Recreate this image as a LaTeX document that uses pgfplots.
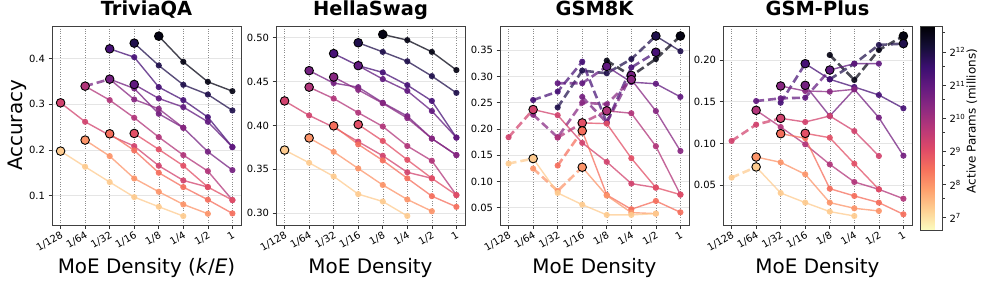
\documentclass[border=0pt]{standalone}
\usepackage{fontspec}
\setmainfont{DejaVu Sans}
\usepackage{pgfplots}
\pgfplotsset{compat=1.18}

\definecolor{cA}{RGB}{5,4,20}
\definecolor{cB}{RGB}{32,16,76}
\definecolor{cC}{RGB}{71,17,118}
\definecolor{cD}{RGB}{97,25,127}
\definecolor{cE}{RGB}{116,32,128}
\definecolor{cF}{RGB}{135,39,129}
\definecolor{cG}{RGB}{177,53,122}
\definecolor{cH}{RGB}{209,67,110}
\definecolor{cI}{RGB}{226,79,102}
\definecolor{cJ}{RGB}{245,110,92}
\definecolor{cK}{RGB}{252,148,105}
\definecolor{cL}{RGB}{254,203,143}

\pgfplotsset{colormap={magmar}{rgb255=(252,253,191) rgb255=(254,207,146) rgb255=(254,159,109) rgb255=(246,112,92) rgb255=(222,73,104) rgb255=(183,55,121) rgb255=(140,41,129) rgb255=(100,26,128) rgb255=(59,15,112) rgb255=(20,14,54) rgb255=(0,0,4)}}

\newcommand{\SL}[2]{\addplot[draw=#1,draw opacity=0.75,line width=1.4bp,mark=*,mark size=3.1bp,mark options={solid,draw opacity=0,fill=#1,fill opacity=0.92}] coordinates {#2};}
\newcommand{\DL}[2]{\addplot[draw=#1,draw opacity=0.72,line width=2.6bp,dash pattern=on 8bp off 4bp,mark=*,mark size=3.1bp,mark options={solid,draw opacity=0,fill=#1,fill opacity=0.92}] coordinates {#2};}
\newcommand{\BM}[2]{\addplot[only marks,mark=*,mark size=4.3bp,mark options={solid,fill=#1,draw=black,line width=0.9bp}] coordinates {#2};}

\pgfplotsset{
  panel/.style={
    scale only axis, width=189bp, height=199bp,
    anchor=north west,
    xmin=-0.35, xmax=7.35,
    xtick={0,1,2,3,4,5,6,7},
    xticklabels={1/128,1/64,1/32,1/16,1/8,1/4,1/2,1},
    tick pos=left,
    tick align=outside,
    major tick length=3.5bp,
    tick style={black!80, line width=0.7bp},
    axis line style={black!75, line width=0.8bp},
    xmajorgrids=true, ymajorgrids=true,
    x grid style={black!45, dotted, line width=0.5bp},
    y grid style={black!10, line width=0.8bp},
    tick label style={font=\fontsize{10}{12}\selectfont},
    x tick label style={rotate=30, anchor=north east, inner sep=1.5bp},
    /pgf/number format/assume math mode=true,
    title style={at={(axis description cs:0.5,1)}, anchor=base, yshift=4.5bp, font=\fontsize{19.5}{22}\selectfont\bfseries},
    xlabel style={at={(axis description cs:0.5,-0.246)}, anchor=base, font=\fontsize{20}{24}\selectfont},
    xlabel={MoE Density},
  }
}

\begin{document}
\begin{tikzpicture}
\path[use as bounding box] (0bp,0bp) rectangle (996bp,-285bp);

% ---------------- TriviaQA
\begin{axis}[panel, at={(52bp,-26bp)},
  title={TriviaQA},
  xlabel={MoE Density (\textit{k}/\textit{E})},
  ylabel={Accuracy},
  ylabel style={at={(axis description cs:-0.1556,0.5)}, anchor=base, font=\fontsize{20}{24}\selectfont},
  ymin=0.036, ymax=0.471,
  ytick={0.1,0.2,0.3,0.4},
  y tick label style={/pgf/number format/.cd, fixed, fixed zerofill, precision=1},
]
\SL{cA}{(4,0.4488)(5,0.3927)(6,0.349)(7,0.3286)}
\SL{cB}{(3,0.4335)(4,0.3847)(5,0.3425)(6,0.3213)(7,0.2864)}
\SL{cC}{(2,0.4211)(3,0.4029)(4,0.3374)(5,0.309)(6,0.2718)(7,0.2063)}
\SL{cD}{(3,0.3432)(4,0.3126)(5,0.2937)(6,0.2616)(7,0.2063)}
\DL{cE}{(1,0.3395)(2,0.3548)}
\SL{cE}{(2,0.3548)(3,0.3345)(4,0.2791)(5,0.2485)(6,0.1961)(7,0.156)}
\SL{cF}{(2,0.3548)(3,0.3104)(4,0.290)(5,0.2485)}
\SL{cG}{(1,0.3395)(2,0.309)(3,0.2704)(4,0.2281)(5,0.1888)(6,0.1538)(7,0.0905)}
\SL{cH}{(0,0.3031)(1,0.2616)(2,0.232)(3,0.2084)(4,0.1655)(5,0.1334)(6,0.1189)}
\SL{cI}{(3,0.2361)(4,0.2012)(5,0.1655)(6,0.1189)(7,0.0905)}
\SL{cJ}{(2,0.2354)(3,0.199)(4,0.1502)(5,0.1189)(6,0.0912)(7,0.0613)}
\SL{cK}{(1,0.2216)(2,0.1866)(3,0.1378)(4,0.1087)(5,0.081)(6,0.0606)}
\SL{cL}{(0,0.1975)(1,0.1633)(2,0.1298)(3,0.097)(4,0.0759)(5,0.0555)}
\BM{cA}{(4,0.4488)}
\BM{cB}{(3,0.4335)}
\BM{cC}{(2,0.4211)}
\BM{cD}{(3,0.3432)}
\BM{cE}{(2,0.3548)}
\BM{cG}{(1,0.3395)}
\BM{cH}{(0,0.3031)}
\BM{cI}{(3,0.2361)}
\BM{cJ}{(2,0.2354)}
\BM{cK}{(1,0.2216)}
\BM{cL}{(0,0.1975)}
\end{axis}

% ---------------- HellaSwag
\begin{axis}[panel, at={(276bp,-26bp)},
  title={HellaSwag},
  ymin=0.2866, ymax=0.5134,
  ytick={0.30,0.35,0.40,0.45,0.50},
  y tick label style={/pgf/number format/.cd, fixed, fixed zerofill, precision=2},
]
\SL{cA}{(4,0.5038)(5,0.4973)(6,0.4839)(7,0.4632)}
\SL{cB}{(3,0.4943)(4,0.4839)(5,0.4732)(6,0.4563)(7,0.4372)}
\SL{cC}{(2,0.482)(3,0.4682)(4,0.4605)(5,0.446)(6,0.428)(7,0.3862)}
\SL{cD}{(3,0.4682)(4,0.4529)(5,0.4395)(6,0.4165)(7,0.3862)}
\SL{cE}{(1,0.4625)(2,0.4483)(3,0.4437)(4,0.426)(5,0.4107)(6,0.3851)(7,0.3663)}
\SL{cF}{(2,0.4552)(3,0.4406)(4,0.4253)(5,0.4084)(6,0.3851)(7,0.3663)}
\SL{cG}{(1,0.4437)(2,0.4307)(3,0.4146)(4,0.3989)(5,0.3766)(6,0.3598)(7,0.3207)}
\SL{cH}{(0,0.428)(1,0.4115)(2,0.398)(3,0.3816)(4,0.3655)(5,0.3467)(6,0.3398)}
\SL{cI}{(3,0.4011)(4,0.3824)(5,0.3609)(6,0.3398)(7,0.3207)}
\SL{cJ}{(2,0.3996)(3,0.3785)(4,0.3602)(5,0.3398)(6,0.3195)(7,0.3073)}
\SL{cK}{(1,0.3858)(2,0.370)(3,0.351)(4,0.3322)(5,0.3157)(6,0.3023)}
\SL{cL}{(0,0.372)(1,0.3575)(2,0.342)(3,0.3218)(4,0.3134)(5,0.2969)}
\BM{cA}{(4,0.5038)}
\BM{cB}{(3,0.4943)}
\BM{cC}{(2,0.482)}
\BM{cD}{(3,0.4682)}
\BM{cE}{(1,0.4625)}
\BM{cF}{(2,0.4552)}
\BM{cG}{(1,0.4437)}
\BM{cH}{(0,0.428)}
\BM{cI}{(3,0.4011)}
\BM{cJ}{(2,0.3996)}
\BM{cK}{(1,0.3858)}
\BM{cL}{(0,0.372)}
\end{axis}

% ---------------- GSM8K
\begin{axis}[panel, at={(500bp,-26bp)},
  title={GSM8K},
  ymin=0.017, ymax=0.396,
  ytick={0.05,0.1,0.15,0.2,0.25,0.3,0.35},
  y tick label style={/pgf/number format/.cd, fixed, fixed zerofill, precision=2},
]
\DL{cA}{(4,0.330)(5,0.301)(6,0.333)(7,0.377)}
\DL{cB}{(2,0.241)(3,0.311)(4,0.306)(5,0.333)(6,0.377)}
\SL{cB}{(6,0.377)(7,0.348)}
\DL{cC}{(1,0.255)(2,0.271)(3,0.328)(4,0.212)(5,0.317)(6,0.346)}
\DL{cD}{(2,0.287)(3,0.287)(4,0.319)}
\SL{cD}{(4,0.319)(5,0.289)(6,0.286)(7,0.261)}
\DL{cE}{(3,0.261)(4,0.212)(5,0.302)}
\DL{cF}{(1,0.227)(2,0.184)(3,0.250)(4,0.247)(5,0.294)}
\SL{cF}{(5,0.294)(6,0.234)(7,0.158)}
\DL{cG}{(2,0.1835)(3,0.2115)(4,0.2344)}
\SL{cG}{(4,0.2344)(5,0.2299)(6,0.167)(7,0.0749)}
\DL{cH}{(0,0.1842)(1,0.2369)}
\SL{cH}{(1,0.2369)(2,0.2261)(3,0.1734)(4,0.1372)(5,0.0959)(6,0.0882)}
\SL{cI}{(3,0.2115)(4,0.2100)(5,0.1442)(6,0.0882)(7,0.0749)}
\DL{cJ}{(2,0.1302)(3,0.1963)}
\SL{cJ}{(3,0.1963)(4,0.0743)(5,0.047)(6,0.0628)(7,0.0412)}
\DL{cK}{(1,0.1245)(2,0.0819)(3,0.127)}
\SL{cK}{(3,0.127)(4,0.073)(5,0.0406)(6,0.0387)}
\DL{cL}{(0,0.134)(1,0.1435)}
\SL{cL}{(1,0.1435)(2,0.078)(3,0.0558)(4,0.0362)(5,0.0362)(6,0.0387)}
\BM{cA}{(7,0.377)}
\BM{cB}{(6,0.377)}
\BM{cC}{(6,0.346)}
\BM{cD}{(4,0.319)}
\BM{cE}{(5,0.302)}
\BM{cF}{(5,0.294)}
\BM{cG}{(4,0.2344)}
\BM{cH}{(1,0.2369)}
\BM{cI}{(3,0.2115)}
\BM{cJ}{(3,0.1963)}
\BM{cK}{(3,0.127)}
\BM{cL}{(1,0.1435)}
\end{axis}

% ---------------- GSM-Plus
\begin{axis}[panel, at={(723bp,-26bp)},
  title={GSM-Plus},
  ymin=0.0025, ymax=0.2407,
  ytick={0.05,0.1,0.15,0.2},
  y tick label style={/pgf/number format/.cd, fixed, fixed zerofill, precision=2},
  colormap name=magmar,
  colorbar,
  point meta min=6.63, point meta max=12.79,
  colorbar style={
    scale only axis, width=22bp, height=204bp,
    at={([xshift=21bp,yshift=-15bp]parent axis.north east)}, anchor=north west,
    ytick={7,8,9,10,11,12},
    yticklabels={2\textsuperscript{7},2\textsuperscript{8},2\textsuperscript{9},2\textsuperscript{10},2\textsuperscript{11},2\textsuperscript{12}},
    minor ytick={7.585,8.585,9.585,10.585,11.585,12.585},
    ytick pos=right, yticklabel pos=right,
    tick align=outside,
    major tick length=3.5bp, minor tick length=2bp,
    tick style={black!80, line width=0.7bp},
    axis line style={black!75, line width=0.8bp},
    yticklabel style={font=\fontsize{10}{12}\selectfont},
    ylabel={Active Params (millions)},
    ylabel style={at={(axis description cs:2.5,0.534)}, anchor=base, font=\fontsize{12}{14}\selectfont},
  },
]
\DL{cA}{(4,0.206)(5,0.1761)(6,0.212)(7,0.2287)}
\DL{cB}{(4,0.1769)(5,0.1956)(6,0.218)(7,0.2196)}
\DL{cC}{(2,0.1489)(3,0.1956)}
\SL{cC}{(3,0.1956)(4,0.1769)(5,0.1677)(6,0.1581)(7,0.1422)}
\DL{cD}{(1,0.1509)(2,0.1541)(3,0.1549)(4,0.188)}
\SL{cD}{(4,0.188)(5,0.1956)(6,0.1956)}
\SL{cE}{(3,0.1697)(4,0.133)(5,0.1649)(6,0.131)(7,0.0855)}
\SL{cF}{(2,0.1689)(3,0.1629)(4,0.1621)(5,0.1649)}
\SL{cG}{(1,0.1398)(2,0.1198)(3,0.0991)(4,0.0751)(5,0.054)(6,0.0452)(7,0.034)}
\DL{cH}{(0,0.1031)(1,0.1226)(2,0.1302)}
\SL{cH}{(2,0.1302)(3,0.1258)(4,0.133)(5,0.115)(6,0.0851)}
\SL{cI}{(3,0.1122)(4,0.107)(5,0.0759)(6,0.0452)}
\SL{cJ}{(2,0.1118)(3,0.1064)(4,0.046)(5,0.0373)(6,0.0293)(7,0.0153)}
\SL{cK}{(1,0.0839)(2,0.0775)(3,0.0632)(4,0.0293)(5,0.0225)(6,0.0193)}
\DL{cL}{(0,0.0592)(1,0.0720)}
\SL{cL}{(1,0.0720)(2,0.0408)(3,0.0293)(4,0.0185)(5,0.0133)}
\BM{cA}{(7,0.2287)}
\BM{cB}{(7,0.2196)}
\BM{cC}{(3,0.1956)}
\BM{cD}{(4,0.188)}
\BM{cE}{(3,0.1697)}
\BM{cF}{(2,0.1689)}
\BM{cG}{(1,0.1398)}
\BM{cH}{(2,0.1302)}
\BM{cI}{(3,0.1122)}
\BM{cJ}{(2,0.1118)}
\BM{cK}{(1,0.0839)}
\BM{cL}{(1,0.0720)}
\end{axis}
\end{tikzpicture}
\end{document}
